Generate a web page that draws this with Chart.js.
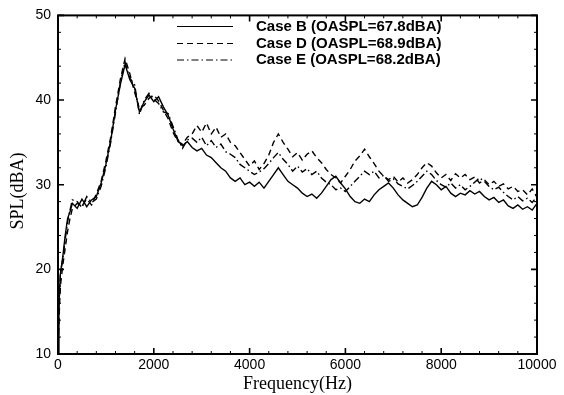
<!DOCTYPE html>
<html>
<head>
<meta charset="utf-8">
<script src="https://cdn.jsdelivr.net/npm/chart.js"></script>
<style>
  html, body { margin: 0; padding: 0; background: #fff; }
  #wrap { width: 564px; height: 395px; }
</style>
</head>
<body>
<div id="wrap"><canvas id="spl" width="564" height="395"></canvas></div>
<script>
// Frequency grid (Hz)
const freq = [0, 20, 50, 100, 150, 200, 250, 300,
  400, 500, 600, 700, 800, 900, 1000, 1100, 1200, 1300,
  1400, 1500, 1600, 1700, 1800, 1900, 2000, 2100, 2200, 2300,
  2400, 2500, 2600, 2700,
  2800, 2900, 3000, 3100, 3200, 3300, 3400, 3500, 3600, 3700,
  3800, 3900, 4000, 4100, 4200, 4300, 4400, 4500, 4600, 4700,
  4800, 4900, 5000, 5100, 5200, 5300, 5400, 5500, 5600, 5700,
  5800, 5900, 6000, 6100, 6200, 6300, 6400, 6500, 6600, 6700,
  6800, 6900, 7000, 7100, 7200, 7300, 7400, 7500, 7600, 7700,
  7800, 7900, 8000, 8100, 8200, 8300, 8400, 8500, 8600, 8700,
  8800, 8900, 9000, 9100, 9200, 9300, 9400, 9500, 9600, 9700,
  9800, 9900, 10000];

// SPL (dBA)
const caseB = [10, 16, 19.5, 21.5, 24, 26, 26.8, 27.8,
  27.2, 28.3, 27.4, 28.2, 28.6, 30.2, 32.4, 35.2, 38.8, 41.8,
  44.2, 42.4, 41.4, 38.6, 39.8, 40.6, 39.8, 40.4, 39.2, 38.2,
  36.6, 35.2, 34.6, 35.1,
  34.4, 34, 34.3, 33.5, 33.2, 32.6, 32, 31.6, 30.8, 30.4,
  30.8, 30, 30.3, 29.8, 30.3, 29.6, 30.4, 31.2, 32, 31.2,
  30.4, 30, 29.6, 29, 28.6, 28.9, 28.4, 29, 29.8, 30.6,
  31, 30.2, 29.5, 28.6, 28, 27.8, 28.3, 28, 28.8, 29.4,
  29.8, 30.2, 29.6, 28.8, 28.2, 27.8, 27.4, 27.6, 28.5, 29.6,
  30.4, 30, 29.4, 29.8, 29, 28.6, 29, 28.8, 29.3, 28.9,
  29.2, 28.6, 28.2, 28.5, 27.9, 28.2, 27.5, 27.2, 27.6, 27.1,
  27.4, 27, 27.8];

const caseD = [10, 14, 18, 20.5, 22.5, 24.5, 26, 27.2,
  27.8, 27.5, 28.3, 27.6, 28.9, 30.4, 32.8, 35.6, 39.2, 42.4,
  44.9, 43.1, 40.9, 39, 39.4, 40.2, 40.6, 39.9, 38.8, 37.8,
  36.2, 35.1, 34.8, 35.6,
  36, 37, 36.2, 37.3, 36, 36.8, 35.6, 36, 35, 34.6,
  33.8, 33, 32.2, 32.8, 31.8, 32.5, 33.5, 35, 36, 35,
  34.2, 33.3, 33.8, 32.9, 33.6, 34, 33.2, 32.6, 31.8, 31.2,
  30.8, 30.2, 31, 31.8, 32.8, 33.4, 34.2, 33.3, 32.5, 31.6,
  31, 30.6, 31, 30.3, 30.8, 30.2, 30.6, 31.2, 32, 32.6,
  32.2, 31.4, 30.8, 31.2, 30.5, 31.3, 30.8, 31.2, 30.6, 30.9,
  30.2, 30.6, 30, 30.4, 29.8, 30.1, 29.5, 29.8, 29.2, 29.4,
  28.8, 29.5, 28.5];

const caseE = [10, 15.5, 19.5, 21.2, 23.5, 25.6, 27, 28.2,
  28, 27.3, 28.6, 27.9, 28.3, 29.8, 32.1, 35, 38.5, 42,
  44.5, 42.6, 41.8, 38.3, 40, 40.8, 40.1, 39.6, 38.6, 38.4,
  36.9, 35.4, 34.3, 35.3,
  35.5, 35, 35.6, 34.6, 35.2, 34.4, 34.8, 33.9, 33.6, 33.2,
  32.4, 32, 31.6, 31.2, 31.5, 31.9, 32.5, 33.2, 33.8, 33,
  32.4, 31.6, 32.2, 31.5, 31.9, 31.2, 31.6, 30.8, 30.3, 30,
  29.4, 29.6, 29.2, 29.8, 30.4, 31, 31.6, 31.2, 31.6, 30.8,
  31.1, 30.4, 30.7, 30.1, 29.8, 29.5, 29.9, 30.4, 31, 31.6,
  31.2, 30.5, 30, 29.7, 30.2, 29.6, 30, 29.4, 29.8, 30.3,
  30.8, 30.4, 29.8, 29.4, 29.7, 29.1, 28.6, 28.2, 28.6, 28.1,
  28.4, 27.9, 28.6];

const seriesNames = ['Case B (OASPL=67.8dBA)', 'Case D (OASPL=68.9dBA)', 'Case E (OASPL=68.2dBA)'];
const seriesDash = [[], [6, 4], [7, 3, 1.5, 3]];
const xTicks = [0, 2000, 4000, 6000, 8000, 10000];
const yTicks = [10, 20, 30, 40, 50];

function toPoints(values) {
    return freq.map((f, i) => ({ x: f, y: values[i] }));
}

/* --------------------------
   Frame, inward ticks, titles, legend
---------------------------- */
const framePlugin = {
    id: 'frame',
    afterDatasetsDraw(chart) {
        const { ctx, chartArea: a, scales } = chart;
        const xs = scales.x, ys = scales.y;
        ctx.save();
        ctx.strokeStyle = '#000';

        // minor / major ticks pointing inward, all four sides
        for (let f = 0; f <= 10000; f += 400) {
            const px = xs.getPixelForValue(f);
            const major = f % 2000 === 0;
            const len = major ? 6 : 3;
            ctx.lineWidth = major ? 1.6 : 1;
            ctx.beginPath();
            ctx.moveTo(px, a.bottom); ctx.lineTo(px, a.bottom - len);
            ctx.moveTo(px, a.top); ctx.lineTo(px, a.top + len);
            ctx.stroke();
        }
        for (let v = 10; v <= 50; v += 2) {
            const py = ys.getPixelForValue(v);
            const major = v % 10 === 0;
            const len = major ? 6 : 3;
            ctx.lineWidth = major ? 1.6 : 1;
            ctx.beginPath();
            ctx.moveTo(a.left, py); ctx.lineTo(a.left + len, py);
            ctx.moveTo(a.right, py); ctx.lineTo(a.right - len, py);
            ctx.stroke();
        }

        ctx.lineWidth = 2;
        ctx.strokeRect(a.left, a.top, a.right - a.left, a.bottom - a.top);

        // axis titles
        ctx.fillStyle = '#000';
        ctx.font = '18px "Liberation Serif", "Times New Roman", serif';
        ctx.textAlign = 'center';
        ctx.textBaseline = 'middle';
        ctx.fillText('Frequency(Hz)', (a.left + a.right) / 2, 384);
        ctx.save();
        ctx.translate(18, 191);
        ctx.rotate(-Math.PI / 2);
        ctx.fillText('SPL(dBA)', 0, 0);
        ctx.restore();

        // legend
        const rows = [26.5, 43.5, 60];
        ctx.font = 'bold 15px "Liberation Sans", Arial, sans-serif';
        ctx.textAlign = 'left';
        chart.data.datasets.forEach((ds, i) => {
            const y = rows[i];
            ctx.lineWidth = 1;
            ctx.setLineDash(ds.borderDash);
            ctx.beginPath();
            ctx.moveTo(177, y); ctx.lineTo(233, y);
            ctx.stroke();
            ctx.setLineDash([]);
            ctx.fillText(ds.label, 256, y);
        });
        ctx.restore();
    }
};

const ctx = document.getElementById('spl').getContext('2d');
new Chart(ctx, {
    type: 'line',
    data: {
        datasets: [caseB, caseD, caseE].map((vals, i) => ({
            label: seriesNames[i],
            data: toPoints(vals),
            borderColor: '#000',
            borderWidth: 1.4,
            borderDash: seriesDash[i],
            pointRadius: 0,
            tension: 0,
            fill: false
        }))
    },
    options: {
        responsive: false,
        animation: false,
        layout: { padding: { left: 0, right: 27, top: 13, bottom: 0 } },
        plugins: { legend: { display: false }, tooltip: { enabled: false } },
        scales: {
            x: {
                type: 'linear',
                min: 0, max: 10000,
                afterBuildTicks: s => { s.ticks = xTicks.map(v => ({ value: v })); },
                afterFit: s => { s.height = 41; },
                grid: { display: false, drawTicks: false },
                border: { display: false },
                ticks: {
                    color: '#000',
                    padding: 3,
                    maxRotation: 0,
                    callback: v => String(v),
                    font: { family: '"Liberation Sans", Arial, sans-serif', size: 14 }
                }
            },
            y: {
                min: 10, max: 50,
                afterBuildTicks: s => { s.ticks = yTicks.map(v => ({ value: v })); },
                afterFit: s => { s.width = 58; },
                grid: { display: false, drawTicks: false },
                border: { display: false },
                ticks: {
                    color: '#000',
                    padding: 7,
                    callback: v => String(v),
                    font: { family: '"Liberation Sans", Arial, sans-serif', size: 14 }
                }
            }
        }
    },
    plugins: [framePlugin]
});
</script>
</body>
</html>
